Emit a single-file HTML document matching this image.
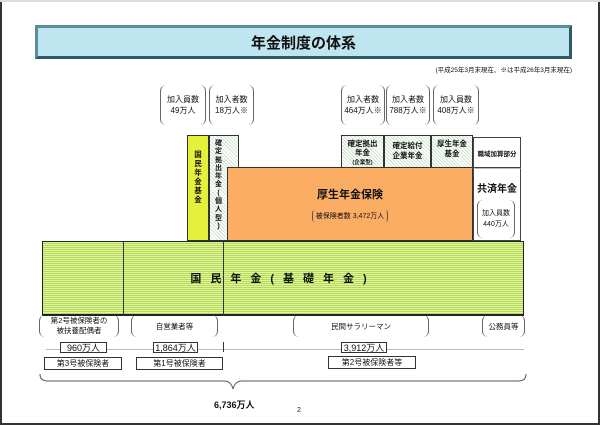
<!DOCTYPE html>
<html><head><meta charset="utf-8"><style>
body{margin:0;width:600px;height:425px;background:#fff;position:relative;overflow:hidden;font-family:"Liberation Sans","Noto Sans CJK JP",sans-serif;color:#111}
.a{position:absolute;box-sizing:border-box}
.c{display:flex;align-items:center;justify-content:center;text-align:center}
.hatch{background:repeating-linear-gradient(45deg,#cfe3cf 0 1px,#fff 1px 2.5px)}
.br{border-left:1px solid #666;border-right:1px solid #666;border-radius:6px;font-size:8px;line-height:11px}
.bx{border:1px solid #333;background:#fff;font-size:8px}
.v{font-size:7.5px;font-weight:bold;line-height:9px;text-align:center}
</style></head><body>
<div class="a" style="left:0;top:0;width:600px;height:2px;background:#ddd"></div>
<div class="a" style="left:0;top:2px;width:2px;height:423px;background:#333"></div>
<div class="a" style="left:598px;top:2px;width:2px;height:423px;background:#333"></div>
<div class="a" style="left:0;top:423px;width:600px;height:2px;background:#333"></div>
<!-- title -->
<div class="a c" style="left:35px;top:25px;width:537px;height:34px;background:#bfe6f0;border:3px solid #5b8e9a;border-right-color:#2e5a66;border-bottom-color:#2e5a66;font-size:15px;font-weight:bold">年金制度の体系</div>
<div class="a" style="left:370px;top:64px;width:202px;text-align:right;font-size:6.5px">(平成25年3月末現在、※は平成26年3月末現在)</div>
<!-- top brackets -->
<div class="a c br" style="left:160px;top:85px;width:46px;height:40px">加入員数<br>49万人</div>
<div class="a c br" style="left:209px;top:85px;width:45px;height:40px">加入者数<br>18万人※</div>
<div class="a c br" style="left:341px;top:85px;width:44px;height:40px">加入者数<br>464万人※</div>
<div class="a c br" style="left:386px;top:85px;width:44px;height:40px">加入者数<br>788万人※</div>
<div class="a c br" style="left:433px;top:85px;width:46px;height:40px">加入員数<br>408万人※</div>
<!-- upper blocks -->
<div class="a" style="left:187px;top:135px;width:22px;height:106px;background:#e5f03a;border:1px solid #333;padding-top:14px"><div class="v">国<br>民<br>年<br>金<br>基<br>金</div></div>
<div class="a hatch" style="left:209px;top:135px;width:30px;height:106px;border:1px solid #333;padding-top:4px"><div class="v" style="width:17px;font-size:7px;line-height:8.3px">確<br>定<br>拠<br>出<br>年<br>金<br>(<br>個<br>人<br>型<br>)</div></div>
<div class="a hatch" style="left:341px;top:135px;width:43px;height:33px;border:1px solid #333;font-size:7.5px;font-weight:bold;line-height:9px;text-align:center;padding-top:3px;white-space:nowrap">確定拠出<br>年金<br><span style="font-size:5.5px">(企業型)</span></div>
<div class="a c hatch" style="left:384px;top:135px;width:47px;height:33px;border:1px solid #333;font-size:7.5px;font-weight:bold;line-height:10px;align-items:flex-start;padding-top:5px;white-space:nowrap">確定給付<br>企業年金</div>
<div class="a c hatch" style="left:431px;top:135px;width:42px;height:54px;border:1px solid #333;font-size:7.5px;font-weight:bold;line-height:10px;align-items:flex-start;padding-top:3px">厚生年金<br>基金</div>
<div class="a" style="left:431px;top:168px;width:42px;height:1px;background:#555"></div>
<div class="a c" style="left:431px;top:170px;width:42px;height:18px;font-size:7px;font-weight:bold">(代行部分)</div>
<div class="a c" style="left:227px;top:167px;width:246px;height:74px;background:#fbad63;border:1px solid #333;flex-direction:column"><div style="font-size:11px;font-weight:bold">厚生年金保険</div><div style="margin-top:8px;font-size:7px;border-left:1px solid #555;border-right:1px solid #555;padding:1px 3px;border-radius:3px">被保険者数 3,472万人</div></div>
<div class="a c" style="left:473px;top:137px;width:48px;height:31px;border:1px solid #444;font-size:6.5px;font-weight:bold">職域加算部分</div>
<div class="a" style="left:473px;top:168px;width:48px;height:73px;border:1px solid #444;border-top:1px solid #bbb"></div>
<div class="a c" style="left:473px;top:180px;width:48px;height:14px;font-size:10px;font-weight:bold">共済年金</div>
<div class="a c br" style="left:477px;top:200px;width:38px;height:38px;font-size:7px">加入員数<br>440万人</div>
<!-- green band -->
<div class="a c" style="left:42px;top:241px;width:482px;height:75px;border:1px solid #222;border-bottom:2px solid #222;background:repeating-linear-gradient(0deg,#b5dc4a 0 1px,#e2f3b0 1px 2px);font-size:11px;font-weight:bold;letter-spacing:9px">国民年金(基礎年金)</div>
<div class="a" style="left:123px;top:241px;width:1px;height:75px;background:#333"></div>
<div class="a" style="left:223px;top:241px;width:1px;height:75px;background:#333"></div>
<!-- bottom -->
<div class="a c br" style="left:39px;top:315px;width:80px;height:22px;font-size:7.5px;line-height:10px">第2号被保険者の<br>被扶養配偶者</div>
<div class="a c br" style="left:131px;top:315px;width:87px;height:22px;font-size:7.5px">自営業者等</div>
<div class="a c br" style="left:293px;top:315px;width:136px;height:22px;font-size:7.5px">民間サラリーマン</div>
<div class="a c br" style="left:482px;top:315px;width:43px;height:22px;font-size:7.5px">公務員等</div>
<div class="a" style="left:46px;top:349px;width:478px;height:1px;background:#bbb"></div>
<div class="a" style="left:223px;top:342px;width:1px;height:10px;background:#333"></div>
<div class="a c bx" style="left:60px;top:342px;width:47px;height:11px;font-size:9px">960万人</div>
<div class="a c bx" style="left:153px;top:342px;width:45px;height:11px;font-size:9px">1,864万人</div>
<div class="a c bx" style="left:341px;top:342px;width:46px;height:11px;font-size:9px">3,912万人</div>
<div class="a c bx" style="left:44px;top:357px;width:78px;height:13px">第3号被保険者</div>
<div class="a c bx" style="left:136px;top:357px;width:87px;height:13px">第1号被保険者</div>
<div class="a c bx" style="left:328px;top:356px;width:88px;height:13px">第2号被保険者等</div>
<svg class="a" style="left:38px;top:372px" width="492" height="22"><path d="M2 2 Q2 9 10 9 L186 9 Q193 9 195 17 Q197 9 204 9 L480 9 Q488 9 488 2" fill="none" stroke="#555" stroke-width="1"/></svg>
<div class="a" style="left:214px;top:398px;font-size:9px;font-weight:bold">6,736万人</div>
<div class="a" style="left:297px;top:407px;font-size:7px">2</div>
</body></html>
